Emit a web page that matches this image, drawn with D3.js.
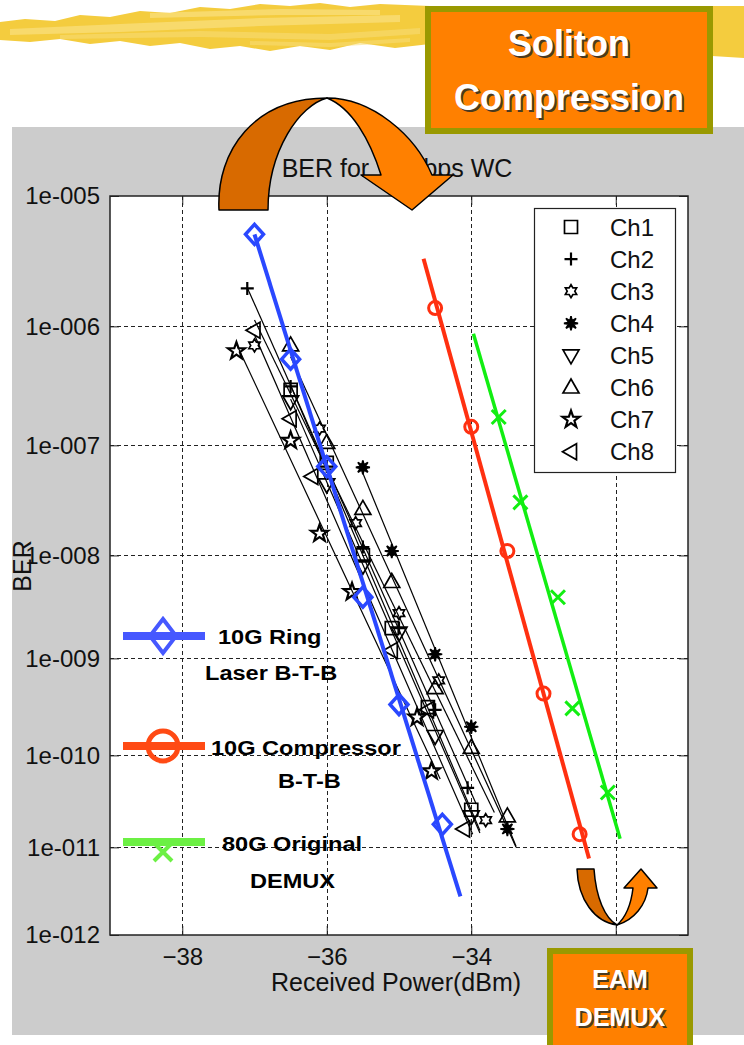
<!DOCTYPE html>
<html>
<head>
<meta charset="utf-8">
<script src="https://cdn.jsdelivr.net/npm/d3@7"></script>
<style>
  body { margin: 0; background: #fff; }
  svg { display: block; font-family: "Liberation Sans", Arial, sans-serif; }
</style>
</head>
<body>
<div id="chart"></div>
<script>
// ---- data ----
const xTicks = [-38, -36, -34, -32];
const yTicks = [1e-5, 1e-6, 1e-7, 1e-8, 1e-9, 1e-10, 1e-11, 1e-12];
const yTickLabels = ["1e-005", "1e-006", "1e-007", "1e-008", "1e-009", "1e-010", "1e-011", "1e-012"];
const channelNames = ["Ch1", "Ch2", "Ch3", "Ch4", "Ch5", "Ch6", "Ch7", "Ch8"];

// [received power dBm, BER]
const ch1 = [[-36.5, 3.0e-7], [-36.0, 7.0e-8], [-35.5, 1.0e-8], [-35.1, 2.0e-9], [-34.6, 3.2e-10], [-34.0, 2.6e-11]];
const ch2 = [[-37.1, 2.0e-6], [-36.5, 3.2e-7], [-36.0, 6.5e-8], [-35.5, 1.2e-8], [-35.0, 2.0e-9], [-34.5, 3.0e-10], [-34.05, 4.5e-11]];
const ch3 = [[-37.0, 7.0e-7], [-36.1, 1.4e-7], [-35.6, 2.0e-8], [-35.0, 2.8e-9], [-34.45, 6.0e-10], [-33.8, 2.0e-11]];
const ch4 = [[-35.5, 6.4e-8], [-35.1, 1.1e-8], [-34.5, 1.1e-9], [-34.0, 2.0e-10], [-33.5, 1.6e-11]];
const ch5 = [[-36.5, 2.4e-7], [-36.0, 4.5e-8], [-35.5, 8.0e-9], [-35.0, 1.8e-9], [-34.5, 1.6e-10], [-34.0, 2.2e-11]];
const ch6 = [[-36.5, 7.0e-7], [-36.0, 1.05e-7], [-35.5, 2.7e-8], [-35.1, 5.6e-9], [-34.5, 5.0e-10], [-34.0, 1.2e-10], [-33.5, 2.2e-11]];
const ch7 = [[-37.25, 6.3e-7], [-36.5, 1.1e-7], [-36.1, 1.6e-8], [-35.65, 4.5e-9], [-34.75, 2.5e-10], [-34.55, 6.8e-11]];
const ch8 = [[-37.0, 9.3e-7], [-36.5, 1.7e-7], [-36.2, 5.3e-8], [-35.1, 1.2e-9], [-34.6, 3.0e-10], [-34.1, 1.6e-11]];

const ringPower = [-37.0, -36.5, -36.0, -35.5, -35.0, -34.4];
const ringBER = [5.2e-6, 5.4e-7, 6.5e-8, 4.0e-9, 3.4e-10, 1.8e-11];
const ringFitPower = [-37.0, -34.15];
const ringFitBER = [5.2e-6, 2.8e-12];

const compPower = [-34.5, -34.0, -33.5, -33.0, -32.5];
const compBER = [1.4e-6, 1.45e-7, 1.1e-8, 4.4e-10, 1.4e-11];
const compFitPower = [-34.66, -32.37];
const compFitBER = [3.4e-6, 7.5e-12];

const demuxPower = [-33.62, -33.32, -32.8, -32.6, -32.11];
const demuxBER = [1.76e-7, 3.1e-8, 4.0e-9, 3.1e-10, 4.0e-11];
const demuxFitPower = [-33.97, -31.94];
const demuxFitBER = [8.7e-7, 1.25e-11];

// ---- helpers ----
// Q factor for a BER (inverse normal tail, Acklam lower-tail approximation)
function qOf(p) {
  const c = [-7.784894002430293e-03, -3.223964580411365e-01, -2.400758277161838e+00,
             -2.549671348816447e+00, 4.374664141464968e+00, 2.938163982698783e+00];
  const d = [7.784695709041462e-03, 3.224671290700398e-01, 2.445134137142996e+00, 3.754408661907416e+00];
  const q = Math.sqrt(-2 * Math.log(p));
  const z = (((((c[0]*q + c[1])*q + c[2])*q + c[3])*q + c[4])*q + c[5]) /
            ((((d[0]*q + d[1])*q + d[2])*q + d[3])*q + 1);
  return -z;
}

function star(n, R, r) {
  const pts = [];
  for (let i = 0; i < 2 * n; i++) {
    const a = -Math.PI / 2 + i * Math.PI / n;
    const rad = i % 2 ? r : R;
    pts.push([(rad * Math.cos(a)).toFixed(2), (rad * Math.sin(a)).toFixed(2)]);
  }
  return "M" + pts.map(p => p.join(",")).join("L") + "Z";
}

const markers = [
  { d: "M-6.5,-6.5H6.5V6.5H-6.5Z", fill: false },
  { d: "M-6.5,0H6.5M0,-6.5V6.5", fill: false, sw: 2.2 },
  { d: star(6, 6.5, 3.8), fill: false },
  { d: star(8, 7, 2.6), fill: true },
  { d: "M-8,-5.5H8L0,8.5Z", fill: false },
  { d: "M-8,5.5H8L0,-8.5Z", fill: false },
  { d: star(5, 9, 3.6), fill: false, sw: 2.2 },
  { d: "M-8.5,0L5.5,-8V8Z", fill: false }
];
const channels = [ch1, ch2, ch3, ch4, ch5, ch6, ch7, ch8];

// ---- canvas ----
const W = 744, H = 1045;
const svg = d3.select("#chart").append("svg").attr("width", W).attr("height", H);

// yellow brush stroke at the top
const brush = svg.append("g");
brush.append("path")
  .attr("d", "M0,22 L25,19 L55,21 L80,15 L110,17 L140,11 L170,13 L200,7 L230,9 L260,4 L290,6 L320,3 L350,7 L380,4 L430,6 L712,6 L744,6 L744,58 L712,56 L430,44 L395,48 L360,43 L330,50 L300,46 L270,51 L240,46 L210,49 L180,43 L150,46 L120,41 L90,44 L60,39 L30,42 L0,40 Z")
  .attr("fill", "#f4cc3e");
const streaks = [
  "M10,29 L120,24 L260,18 L400,15 L400,22 L260,26 L120,32 L10,35 Z",
  "M60,35 L200,31 L330,34 L420,28 L420,34 L330,40 L200,37 L60,39 Z",
  "M150,13 L280,9 L380,10 L380,15 L280,15 L150,18 Z",
  "M250,41 L330,43 L410,38 L410,42 L330,47 L250,45 Z"
];
brush.selectAll("path.streak").data(streaks).join("path")
  .attr("class", "streak").attr("d", d => d)
  .attr("fill", (d, i) => i % 2 ? "#f8dc78" : "#fbe592").attr("opacity", 0.55);

// gray figure panel
svg.append("rect").attr("x", 12).attr("y", 127).attr("width", 732).attr("height", 908).attr("fill", "#cccccc");

// plot area
const L = 110, R = 688, T = 196, B = 935;
const x = d3.scaleLinear().domain([-39, -31]).range([L, R]);
const yq = d3.scaleLinear().domain([qOf(1e-5), qOf(1e-12)]).range([T, B]);
const y = v => yq(qOf(v));

svg.append("rect").attr("x", L).attr("y", T).attr("width", R - L).attr("height", B - T).attr("fill", "#fff");

svg.append("defs").append("clipPath").attr("id", "plotclip")
  .append("rect").attr("x", L).attr("y", T).attr("width", R - L).attr("height", B - T);

// grid
const grid = svg.append("g").attr("stroke", "#222").attr("stroke-width", 1).attr("stroke-dasharray", "4,3");
grid.selectAll("line.gx").data(xTicks).join("line")
  .attr("x1", d => Math.round(x(d)) + 0.5).attr("x2", d => Math.round(x(d)) + 0.5)
  .attr("y1", T).attr("y2", B);
grid.selectAll("line.gy").data(yTicks.slice(1, -1)).join("line")
  .attr("x1", L).attr("x2", R)
  .attr("y1", d => Math.round(y(d)) + 0.5).attr("y2", d => Math.round(y(d)) + 0.5);

// axes
const axisFont = g => g.selectAll("text").attr("font-size", 24).attr("fill", "#111")
  .attr("font-family", "'Liberation Sans', Arial, sans-serif");

svg.append("g").attr("transform", `translate(0,${B})`)
  .call(d3.axisBottom(x).tickValues(xTicks).tickSize(-9).tickPadding(13).tickFormat(d3.format("d")))
  .call(g => g.select(".domain").remove())
  .call(axisFont);
svg.append("g").attr("transform", `translate(0,${T})`)
  .call(d3.axisTop(x).tickValues(xTicks).tickSize(-9).tickFormat(""))
  .call(g => g.select(".domain").remove());
svg.append("g").attr("transform", `translate(${L},0)`)
  .call(d3.axisLeft(yq).tickValues(yTicks.map(qOf)).tickSize(-9).tickPadding(10)
    .tickFormat((d, i) => yTickLabels[i]))
  .call(g => g.select(".domain").remove())
  .call(axisFont);
svg.append("g").attr("transform", `translate(${R},0)`)
  .call(d3.axisRight(yq).tickValues(yTicks.map(qOf)).tickSize(-9).tickFormat(""))
  .call(g => g.select(".domain").remove());
svg.selectAll(".tick line").attr("stroke", "#222");

// data layer
const data = svg.append("g").attr("clip-path", "url(#plotclip)");

// channel fit lines (least squares in Q space)
channels.forEach(pts => {
  const qs = pts.map(p => qOf(p[1]));
  const xs = pts.map(p => p[0]);
  const mx = d3.mean(xs), mq = d3.mean(qs);
  const slope = d3.sum(xs, (v, i) => (v - mx) * (qs[i] - mq)) / d3.sum(xs, v => (v - mx) ** 2);
  const x0 = d3.min(xs), x1 = d3.max(xs) + 0.12;
  data.append("line")
    .attr("x1", x(x0)).attr("y1", yq(mq + slope * (x0 - mx)))
    .attr("x2", x(x1)).attr("y2", yq(mq + slope * (x1 - mx)))
    .attr("stroke", "#000").attr("stroke-width", 1.2);
});

channels.forEach((pts, ci) => {
  const m = markers[ci];
  data.selectAll(null).data(pts).join("path")
    .attr("transform", p => `translate(${x(p[0])},${y(p[1])})`)
    .attr("d", m.d)
    .attr("fill", m.fill ? "#000" : "none")
    .attr("stroke", "#000").attr("stroke-width", m.sw || 1.7).attr("stroke-linejoin", "miter");
});

// coloured series
const lineGen = d3.line().x(d => x(d[0])).y(d => y(d[1]));
function fitLine(px, pb, color, w) {
  data.append("path").datum(px.map((v, i) => [v, pb[i]]))
    .attr("d", lineGen).attr("fill", "none").attr("stroke", color).attr("stroke-width", w);
}
fitLine(ringFitPower, ringFitBER, "#2a48ff", 4);
fitLine(compFitPower, compFitBER, "#ff3010", 4);
fitLine(demuxFitPower, demuxFitBER, "#12ee12", 3.5);

data.selectAll(null).data(ringPower.map((v, i) => [v, ringBER[i]])).join("path")
  .attr("transform", p => `translate(${x(p[0])},${y(p[1])})`)
  .attr("d", "M0,-10L9,0L0,10L-9,0Z")
  .attr("fill", "none").attr("stroke", "#2a48ff").attr("stroke-width", 3.5);
data.selectAll(null).data(compPower.map((v, i) => [v, compBER[i]])).join("circle")
  .attr("cx", p => x(p[0])).attr("cy", p => y(p[1])).attr("r", 6.5)
  .attr("fill", "none").attr("stroke", "#ff3010").attr("stroke-width", 3);
data.selectAll(null).data(demuxPower.map((v, i) => [v, demuxBER[i]])).join("path")
  .attr("transform", p => `translate(${x(p[0])},${y(p[1])})`)
  .attr("d", "M-7,-7L7,7M-7,7L7,-7")
  .attr("fill", "none").attr("stroke", "#12ee12").attr("stroke-width", 3);

// channel legend
const lg = svg.append("g");
lg.append("rect").attr("x", 534.5).attr("y", 208.5).attr("width", 141).attr("height", 264)
  .attr("fill", "#fff").attr("stroke", "#222").attr("stroke-width", 1.2);
channelNames.forEach((name, i) => {
  const cy = 227 + i * 32.1;
  const m = markers[i];
  lg.append("path").attr("transform", `translate(571,${cy})`).attr("d", m.d)
    .attr("fill", m.fill ? "#000" : "none").attr("stroke", "#000").attr("stroke-width", m.sw || 1.7);
  lg.append("text").attr("x", 610).attr("y", cy + 8.5).attr("font-size", 24).attr("fill", "#111").text(name);
});

// plot border
svg.append("rect").attr("x", L).attr("y", T).attr("width", R - L).attr("height", B - T)
  .attr("fill", "none").attr("stroke", "#222").attr("stroke-width", 1.5);

// annotation legend (slide overlay)
const ann = svg.append("g");
function annText(tx, ty, str) {
  ann.append("text").attr("transform", `translate(${tx},${ty}) scale(1.15,1)`)
    .attr("font-size", 20.5).attr("font-weight", "bold").attr("fill", "#000").text(str);
}
ann.append("line").attr("x1", 123).attr("x2", 205).attr("y1", 636).attr("y2", 636)
  .attr("stroke", "#4658ff").attr("stroke-width", 8);
ann.append("path").attr("d", "M163,619L176,636L163,653L150,636Z")
  .attr("fill", "none").attr("stroke", "#4658ff").attr("stroke-width", 4);
annText(218, 644, "10G Ring");
annText(205, 680, "Laser B-T-B");

ann.append("line").attr("x1", 123).attr("x2", 205).attr("y1", 746).attr("y2", 746)
  .attr("stroke", "#ff4a14").attr("stroke-width", 8);
ann.append("circle").attr("cx", 163).attr("cy", 746).attr("r", 15)
  .attr("fill", "none").attr("stroke", "#ff4a14").attr("stroke-width", 5);
annText(211, 755, "10G Compressor");
annText(278, 788, "B-T-B");

ann.append("line").attr("x1", 123).attr("x2", 205).attr("y1", 842).attr("y2", 842)
  .attr("stroke", "#6cf044").attr("stroke-width", 8);
ann.append("path").attr("d", "M154,843L172,861M154,861L172,843")
  .attr("fill", "none").attr("stroke", "#6cf044").attr("stroke-width", 4);
annText(222, 851, "80G Original");
annText(250, 888, "DEMUX");

// titles and labels
svg.append("text").attr("x", 397).attr("y", 177).attr("text-anchor", "middle")
  .attr("font-size", 25).attr("fill", "#111").text("BER for 10Gbps WC");
svg.append("text").attr("x", 396).attr("y", 991).attr("text-anchor", "middle")
  .attr("font-size", 25).attr("fill", "#111").text("Received Power(dBm)");
svg.append("text").attr("transform", "translate(31,566) rotate(-90)").attr("text-anchor", "middle")
  .attr("font-size", 25).attr("fill", "#111").text("BER");

// curved arrows
const arrows = svg.append("g").attr("stroke", "#000").attr("stroke-width", 1.5).attr("stroke-linejoin", "round");
arrows.append("path").attr("d", "M219,210 C216,150 255,98 327,98 C300,105 268,150 268,210 Z").attr("fill", "#d86a00");
arrows.append("path").attr("d", "M327,98 C372,98 415,135 432,175 L453,175 L412,210 L361,175 L381,175 C370,140 352,108 327,98 Z").attr("fill", "#ff8000");
arrows.append("path").attr("d", "M577,869 L594,869 C596,898 605,918 617,925 C595,922 578,900 577,869 Z").attr("fill", "#d86a00");
arrows.append("path").attr("d", "M617,925 C634,920 646,905 648,888 L657,888 L641,869 L624,888 L633,888 C631,905 625,918 617,925 Z").attr("fill", "#ff8000");

// orange caption boxes
function box(bx, by, bw, bh, lines, fs, cx) {
  const g = svg.append("g");
  g.append("rect").attr("x", bx).attr("y", by).attr("width", bw).attr("height", bh)
    .attr("fill", "#ff8000").attr("stroke", "#999900").attr("stroke-width", 6);
  lines.forEach(l => {
    g.append("text").attr("x", cx + 2).attr("y", l[1] + 2).attr("text-anchor", "middle")
      .attr("font-size", fs).attr("font-weight", "bold").attr("fill", "#4a3a20").text(l[0]);
    g.append("text").attr("x", cx).attr("y", l[1]).attr("text-anchor", "middle")
      .attr("font-size", fs).attr("font-weight", "bold").attr("fill", "#fff").text(l[0]);
  });
}
box(428, 9, 282, 122, [["Soliton", 56], ["Compression", 110]], 36, 569);
box(550, 951, 140, 110, [["EAM", 988], ["DEMUX", 1026]], 25, 620);
</script>
</body>
</html>
